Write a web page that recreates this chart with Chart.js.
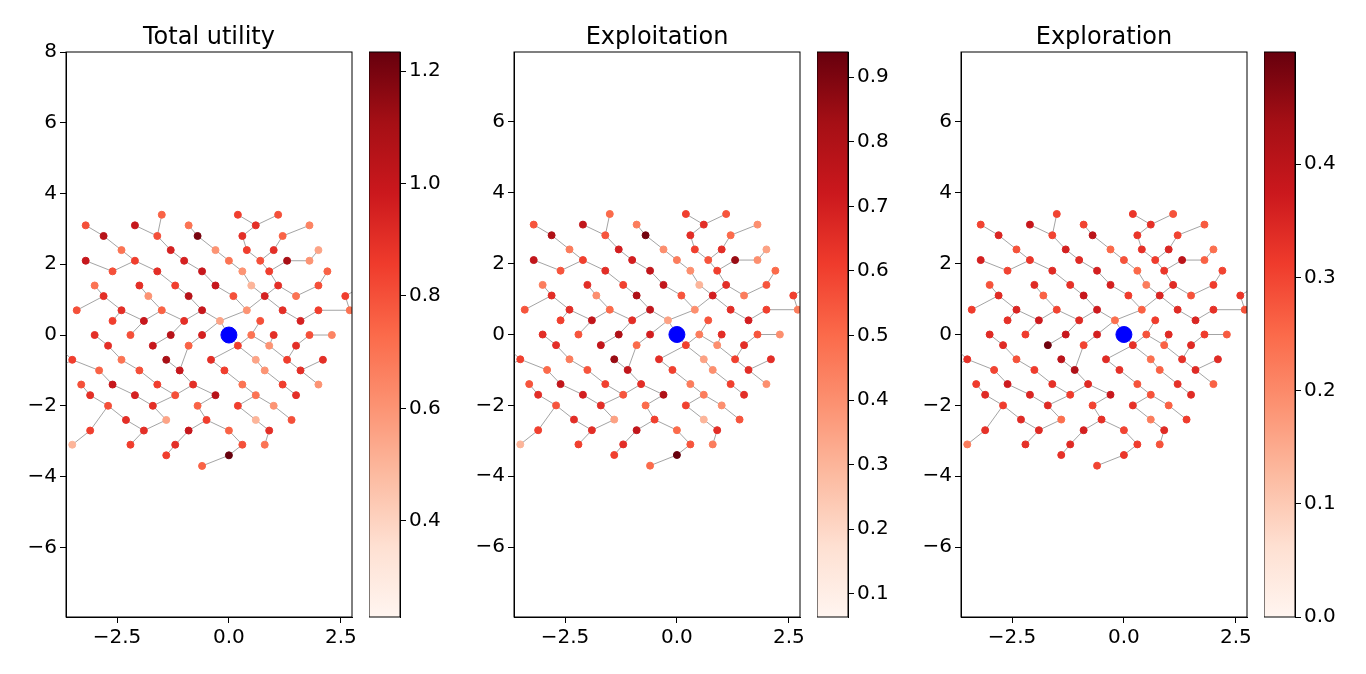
<!DOCTYPE html>
<html>
<head>
<meta charset="utf-8">
<script src="https://cdn.jsdelivr.net/npm/chart.js@4"></script>
<style>
body{margin:0;background:#fff;width:1366px;height:674px;overflow:hidden;position:relative;font-family:"DejaVu Sans"}
.box{position:absolute;top:0;height:674px}
</style>
</head>
<body>
<script>
// node rows (same nodes in every panel)
const rowY = [3.4,3.1,2.8,2.4,2.1,1.8,1.4,1.1,0.7,0.4,0.0,-0.3,-0.7,-1.0,-1.4,-1.7,-2.0,-2.4,-2.7,-3.1,-3.4,-3.7];
const rowX = [
  [-1.5,0.2,1.1],
  [-3.2,-2.1,-0.9,0.6,1.8],
  [-2.8,-1.6,-0.7,0.3,1.2],
  [-2.4,-1.3,-0.3,0.4,1.0,2.0],
  [-3.2,-2.1,-1.0,0.0,0.7,1.3,1.8],
  [-2.6,-1.6,-0.6,0.3,0.9,2.2],
  [-3.0,-2.0,-1.2,-0.3,0.5,1.1,2.0,3.0],
  [-2.8,-1.8,-0.9,0.1,0.8,1.5,2.6],
  [-3.4,-2.4,-1.5,-0.6,0.4,1.2,2.0,2.7],
  [-2.6,-1.9,-1.0,-0.2,0.7,1.6],
  [-4.1,-3.0,-2.2,-1.3,-0.6,0.5,1.0,1.8,2.3],
  [-2.7,-1.7,-0.9,0.2,0.9,1.5],
  [-3.5,-2.4,-1.4,-0.4,0.6,1.3,2.1],
  [-3.9,-2.9,-2.0,-1.1,-0.1,0.8,1.6],
  [-3.3,-2.6,-1.6,-0.8,0.3,1.2,2.0],
  [-4.1,-3.1,-2.1,-1.2,-0.3,0.6,1.5],
  [-2.7,-1.7,-0.7,0.2,1.0],
  [-2.3,-1.4,-0.5,0.6,1.4],
  [-3.1,-1.9,-0.9,0.0,0.9],
  [-3.5,-2.2,-1.2,0.3,0.8],
  [-1.4,0.0],
  [-0.6]
];
const totalRows = [
  [.75,.85,.8],[.8,1.0,.7,.9,.65],[1.05,.8,1.2,.9,.75],[.7,.95,.6,.85,.9,.55],
  [1.0,.85,.95,.7,.8,1.1,.6],[.8,.9,1.0,.6,.85,.75],[.7,.9,.85,1.0,.5,.9,.8,.75],
  [.9,.6,1.05,.8,.95,.7,.85],[.8,.9,.75,1.0,.6,.9,.85,.7],[.85,1.0,.9,.55,.8,.95],
  [.6,.9,.8,1.05,.95,.7,.9,.8,.65],[.9,1.0,.75,.85,.6,.9],[.85,.7,1.1,.9,.55,.85,.9],
  [.9,.75,.8,1.0,.85,.6,.9],[.8,1.0,.85,.9,.7,.85,.6],[.85,.9,.95,.8,1.05,.7,.9],
  [.8,.9,.75,.85,.6],[.9,.55,.85,.5,.8],[.85,.9,1.0,.75,.9],[.5,.85,.9,.8,.7],[.85,1.24],[.75]
];
const exploitRows = [
  [.5,.6,.55],[.55,.75,.45,.65,.4],[.8,.55,.92,.65,.5],[.45,.7,.4,.6,.65,.35],
  [.75,.6,.7,.45,.55,.85,.4],[.55,.65,.75,.4,.6,.5],[.45,.65,.6,.75,.3,.65,.55,.5],
  [.65,.4,.8,.55,.7,.45,.6],[.55,.65,.5,.75,.4,.65,.6,.45],[.6,.75,.65,.35,.55,.7],
  [.4,.65,.55,.8,.7,.45,.65,.55,.4],[.65,.75,.5,.6,.4,.65],[.6,.45,.85,.65,.35,.6,.65],
  [.65,.5,.55,.75,.6,.4,.65],[.55,.75,.6,.65,.45,.6,.4],[.6,.65,.7,.55,.8,.45,.65],
  [.55,.65,.5,.6,.4],[.65,.35,.6,.3,.55],[.6,.65,.75,.5,.65],[.3,.6,.65,.55,.45],[.6,.94],[.5]
];
const exploreRows = [
  [.3,.32,.28],[.3,.38,.3,.33,.27],[.35,.3,.4,.32,.3],[.28,.36,.25,.33,.35,.24],
  [.36,.32,.34,.28,.31,.4,.26],[.3,.34,.36,.25,.32,.3],[.28,.34,.33,.36,.22,.34,.31,.3],
  [.34,.26,.38,.31,.35,.28,.32],[.31,.35,.3,.37,.26,.34,.33,.28],[.33,.37,.34,.24,.31,.35],
  [.25,.34,.31,.38,.36,.28,.34,.31,.27],[.34,.49,.3,.33,.26,.34],[.33,.28,.4,.34,.24,.33,.34],
  [.34,.3,.31,.42,.33,.26,.34],[.31,.37,.33,.34,.28,.33,.26],[.33,.34,.35,.31,.38,.28,.34],
  [.31,.34,.3,.33,.26],[.34,.24,.33,.22,.31],[.33,.34,.36,.3,.34],[.22,.33,.34,.31,.28],[.33,.32],[.3]
];
const titles = ['Total utility','Exploitation','Exploration'];
const cbRange = [[0.229,1.234],[0.064,0.939],[0,0.499]];
const cbStep = [0.2,0.1,0.1];
const panelLeft = [66,514,961];
const cbLeft = [369,817,1264];

const reds = ['#fff5f0','#fee0d2','#fcbba1','#fc9272','#fb6a4a','#ef3b2c','#cb181d','#a50f15','#67000d'];
function hex(c){return [1,3,5].map(i=>parseInt(c.substr(i,2),16));}
function redAt(t){
  t=Math.max(0,Math.min(1,t))*(reds.length-1);
  const i=Math.min(Math.floor(t),reds.length-2), f=t-i;
  const a=hex(reds[i]), b=hex(reds[i+1]);
  return 'rgb('+a.map((v,k)=>Math.round(v+(b[k]-v)*f)).join(',')+')';
}

const nodes=[];
rowY.forEach((y,r)=>rowX[r].forEach((x,k)=>nodes.push({x,y,v:[totalRows[r][k],exploitRows[r][k],exploreRows[r][k]]})));
// tree edges: each node to nearest node closer to the origin
const all=[{x:0,y:0}].concat(nodes);
const edges=[];
all.forEach((n,i)=>{
  if(i===0)return;
  const d=Math.hypot(n.x,n.y);let best=all[0],bd=1e9;
  all.forEach((m,j)=>{if(j===i)return;const dm=Math.hypot(m.x,m.y);
    if(dm<d){const dd=Math.hypot(m.x-n.x,m.y-n.y);if(dd<bd){bd=dd;best=m;}}});
  edges.push({x:n.x,y:n.y},{x:best.x,y:best.y},{x:NaN,y:NaN});
});

const fmt=v=>String(v).replace('-','\u2212');
const font={family:'DejaVu Sans',size:20};
const tickGrid={drawOnChartArea:false,drawTicks:true,tickLength:6,color:'#000'};

function addBox(left,width){
  const d=document.createElement('div');d.className='box';
  d.style.left=left+'px';d.style.width=width+'px';
  const c=document.createElement('canvas');d.appendChild(c);document.body.appendChild(d);return c;
}

titles.forEach((title,p)=>{
  const [lo,hi]=cbRange[p];
  const pts=nodes.map(n=>({x:n.x,y:n.y}));
  const cols=nodes.map(n=>redAt((n.v[p]-lo)/(hi-lo)));
  const c=addBox(panelLeft[p]-70,286+70+12);
  new Chart(c,{type:'scatter',
    data:{datasets:[
      {data:edges,showLine:true,pointRadius:0,borderColor:'#666',borderWidth:0.6,spanGaps:false,order:3},
      {data:pts,pointRadius:3.5,backgroundColor:cols,borderColor:cols,order:2},
      {data:[{x:0,y:0}],pointRadius:8,backgroundColor:'#0000ff',borderColor:'#0000ff',order:1}
    ]},
    options:{animation:false,responsive:true,maintainAspectRatio:false,
      layout:{padding:{top:52,right:12,left:0,bottom:0}},
      plugins:{legend:{display:false},tooltip:{enabled:false},title:{display:false}},
      scales:{
        x:{min:-3.64,max:2.75,afterFit:s=>{s.height=57;},border:{color:'#000'},grid:tickGrid,
          ticks:{stepSize:2.5,includeBounds:false,color:'#000',font,maxRotation:0,callback:v=>fmt(v.toFixed(1))}},
        y:{min:-7.97,max:p===0?8:7.97,afterFit:s=>{s.width=70;},border:{color:'#000'},grid:tickGrid,
          ticks:{stepSize:2,includeBounds:false,color:'#000',font,callback:v=>fmt(v)}}
      }},
    plugins:[{id:'ttl',afterDraw(ch){const g=ch.ctx,a=ch.chartArea;g.save();g.fillStyle='#000';
      g.font='24px "DejaVu Sans"';g.textAlign='center';g.textBaseline='alphabetic';
      g.fillText(title,(a.left+a.right)/2,44);
      g.strokeStyle='#000';g.lineWidth=1;g.strokeRect(a.left,a.top,a.right-a.left,a.bottom-a.top);g.restore();}}]
  });
  // colorbar
  const cb=addBox(cbLeft[p],100);
  new Chart(cb,{type:'bar',
    data:{labels:[''],datasets:[{data:[[lo,hi]],barPercentage:1,categoryPercentage:1,
      backgroundColor(ctx){const a=ctx.chart.chartArea;if(!a)return '#fff';
        const g=ctx.chart.ctx.createLinearGradient(0,a.bottom,0,a.top);
        reds.forEach((r,i)=>g.addColorStop(i/(reds.length-1),r));return g;}}]},
    options:{animation:false,responsive:true,maintainAspectRatio:false,
      layout:{padding:{top:52,bottom:57,left:0,right:0}},
      plugins:{legend:{display:false},tooltip:{enabled:false}},
      scales:{x:{display:false},
        y:{position:'right',min:lo,max:hi,afterFit:s=>{s.width=69;},border:{color:'#000'},grid:tickGrid,
          ticks:{stepSize:cbStep[p],includeBounds:false,color:'#000',font,callback:v=>(+v).toFixed(1)}}}},
    plugins:[{id:'frame',afterDraw(ch){const g=ch.ctx,a=ch.chartArea;g.save();g.strokeStyle='#000';g.lineWidth=1;
      g.strokeRect(a.left,a.top,a.right-a.left,a.bottom-a.top);g.restore();}}]
  });
});
</script>
</body>
</html>
